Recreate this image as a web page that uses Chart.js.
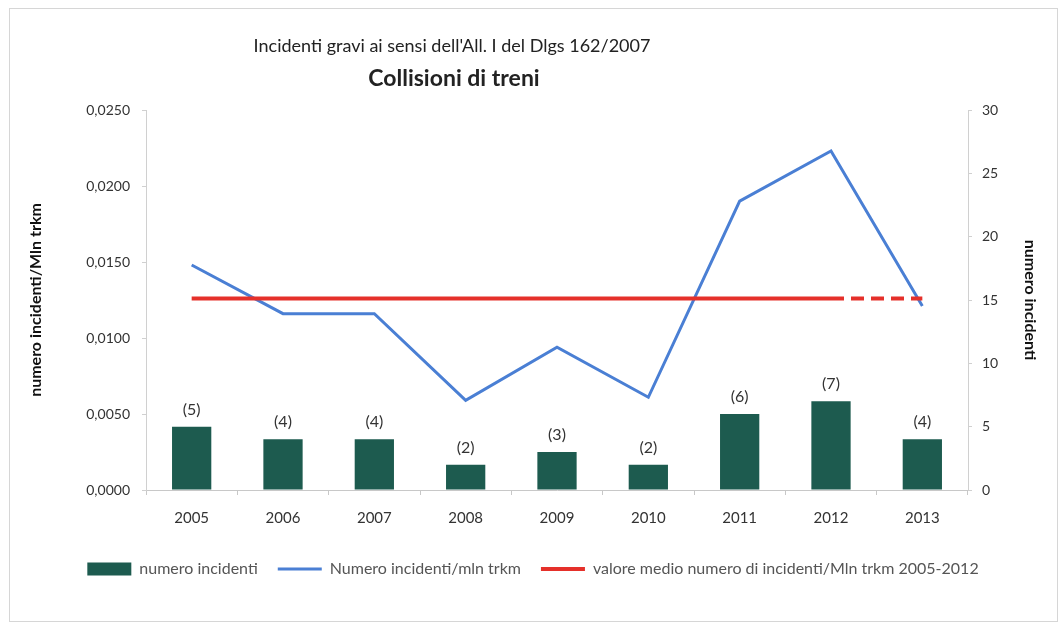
<!DOCTYPE html>
<html>
<head>
<meta charset="utf-8">
<script src="https://cdn.jsdelivr.net/npm/chart.js@4"></script>
<style>
    html, body { margin: 0; padding: 0; background: #fff; }
    #wrap { position: relative; width: 1064px; height: 628px; }
    #frame { position: absolute; left: 9px; top: 8px; right: 6px; bottom: 6px; border: 1px solid #d6d6d6; }
</style>
</head>
<body>
<div id="wrap">
    <div id="frame"></div>
    <canvas id="chart" width="1064" height="628"></canvas>
</div>
<script>
'use strict';
const years = ['2005', '2006', '2007', '2008', '2009', '2010', '2011', '2012', '2013'];
const incidentCounts = [5, 4, 4, 2, 3, 2, 6, 7, 4];
const incidentsPerMlnTrkm = [0.0148, 0.0116, 0.0116, 0.0059, 0.0094, 0.0061, 0.0190, 0.0223, 0.0121];
const meanRate = [0.0126, 0.0126, 0.0126, 0.0126, 0.0126, 0.0126, 0.0126, 0.0126, 0.0126];
const leftTicks = [0, 0.005, 0.010, 0.015, 0.020, 0.025];
const rightTicks = [0, 5, 10, 15, 20, 25, 30];

const titleLines = [
    'Incidenti gravi ai sensi dell\'All. I del Dlgs 162/2007',
    'Collisioni di treni',
];

const FONT = 'Lato, "Open Sans", sans-serif';

// title text + "(n)" labels above bars
const annotations = {
    id: 'annotations',
    afterDatasetsDraw(chart) {
        const ctx = chart.ctx;
        ctx.save();
        ctx.fillStyle = '#222';
        ctx.textAlign = 'center';
        ctx.textBaseline = 'alphabetic';
        ctx.font = '18px ' + FONT;
        ctx.fillText(titleLines[0], 452, 52);
        ctx.font = 'bold 23px ' + FONT;
        ctx.fillText(titleLines[1], 454, 86);

        const meta = chart.getDatasetMeta(0);
        ctx.font = '16px ' + FONT;
        ctx.fillStyle = '#333';
        meta.data.forEach(function (bar, i) {
            ctx.fillText('(' + incidentCounts[i] + ')', bar.x, bar.y - 12);
        });
        ctx.restore();
    },
};

const ctx = document.getElementById('chart').getContext('2d');
new Chart(ctx, {
    data: {
        labels: years,
        datasets: [
            {
                type: 'bar',
                label: 'numero incidenti',
                data: incidentCounts,
                yAxisID: 'y1',
                backgroundColor: '#1d5b4f',
                categoryPercentage: 1,
                barPercentage: 0.43,
                pointStyle: 'rect',
                order: 3,
            },
            {
                type: 'line',
                label: 'Numero incidenti/mln trkm',
                data: incidentsPerMlnTrkm,
                yAxisID: 'y',
                borderColor: '#4a7fd4',
                backgroundColor: '#4a7fd4',
                borderWidth: 3,
                pointRadius: 0,
                tension: 0,
                pointStyle: 'line',
                order: 2,
            },
            {
                type: 'line',
                label: 'valore medio numero di incidenti/Mln trkm 2005-2012',
                data: meanRate,
                yAxisID: 'y',
                borderColor: '#e5302a',
                backgroundColor: '#e5302a',
                borderWidth: 4,
                pointRadius: 0,
                pointStyle: 'line',
                segment: {
                    borderDash: c => c.p0DataIndex >= 7 ? [13, 7] : undefined,
                },
                order: 1,
            },
        ],
    },
    options: {
        responsive: false,
        animation: false,
        layout: {
            padding: { left: 22, right: 20, top: 110, bottom: 41 },
        },
        plugins: {
            legend: {
                display: true,
                position: 'bottom',
                labels: {
                    usePointStyle: true,
                    pointStyleWidth: 44,
                    boxHeight: 13,
                    padding: 20,
                    color: '#555',
                    font: { family: FONT, size: 16 },
                    sort: (a, b) => a.datasetIndex - b.datasetIndex,
                },
            },
            tooltip: { enabled: false },
        },
        scales: {
            x: {
                grid: {
                    display: true,
                    drawOnChartArea: false,
                    drawTicks: true,
                    tickLength: 5,
                    color: '#c8c8c8',
                },
                border: { color: '#c8c8c8' },
                ticks: {
                    color: '#333',
                    padding: 14,
                    font: { family: FONT, size: 15 },
                },
            },
            y: {
                position: 'left',
                min: 0,
                max: 0.025,
                afterBuildTicks: (axis) => {
                    axis.ticks = leftTicks.map(v => ({ value: v }));
                },
                afterFit: (axis) => { axis.width = 124; },
                grid: {
                    display: true,
                    drawOnChartArea: false,
                    tickLength: 4,
                    color: '#d0d0d0',
                },
                border: { color: '#d0d0d0' },
                ticks: {
                    color: '#333',
                    padding: 12,
                    font: { family: FONT, size: 14 },
                    callback: function (v) {
                        return v.toFixed(4).replace('.', ',');
                    },
                },
                title: {
                    display: true,
                    text: 'numero incidenti/Mln trkm',
                    color: '#111',
                    font: { family: FONT, size: 16, weight: 'bold' },
                    padding: { bottom: 8 },
                },
            },
            y1: {
                position: 'right',
                min: 0,
                max: 30,
                afterBuildTicks: (axis) => {
                    axis.ticks = rightTicks.map(v => ({ value: v }));
                },
                afterFit: (axis) => { axis.width = 76; },
                grid: {
                    display: true,
                    drawOnChartArea: false,
                    tickLength: 4,
                    color: '#d0d0d0',
                },
                border: { color: '#d0d0d0' },
                ticks: {
                    color: '#333',
                    padding: 10,
                    font: { family: FONT, size: 14 },
                },
                title: {
                    display: true,
                    text: 'numero incidenti',
                    color: '#111',
                    font: { family: FONT, size: 16, weight: 'bold' },
                },
            },
        },
    },
    plugins: [annotations],
});
</script>
</body>
</html>
